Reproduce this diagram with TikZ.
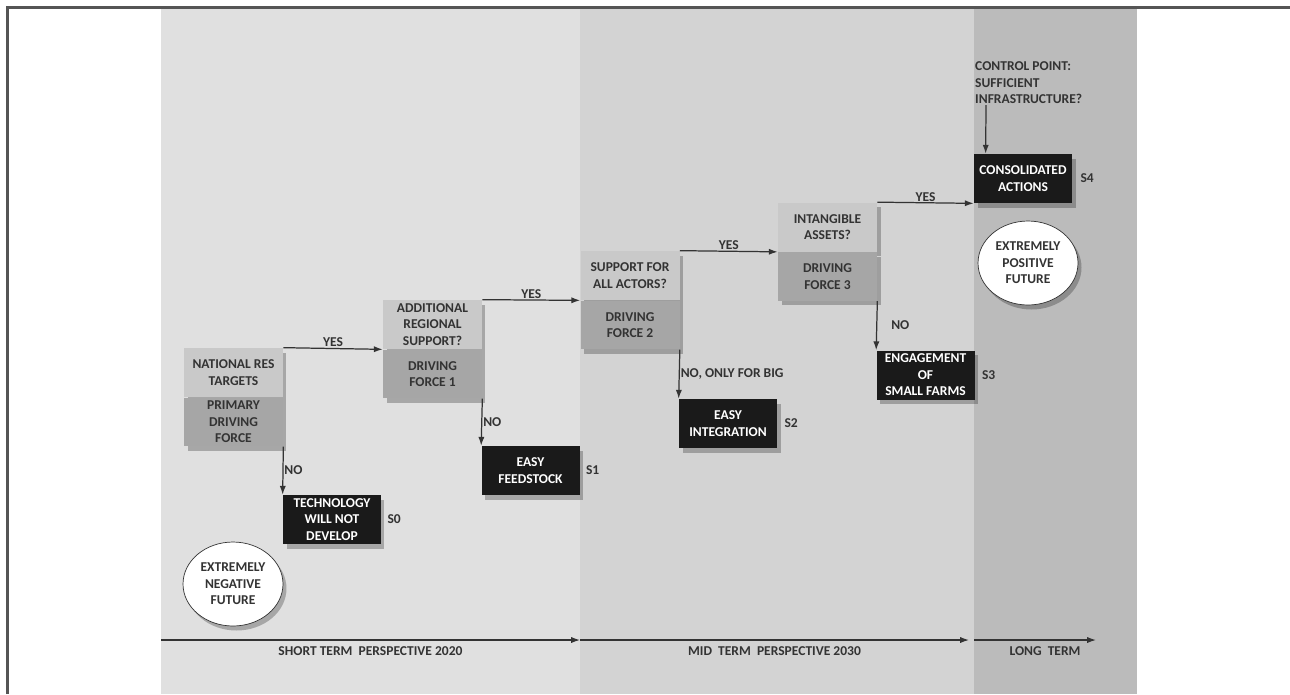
\documentclass[tikz,border=0pt]{standalone}
\usepackage{fontspec}
\setmainfont{Carlito}
\usetikzlibrary{positioning,shapes.geometric,shadows,arrows.meta}
\definecolor{bandshort}{HTML}{E0E0E0}
\definecolor{bandmid}{HTML}{D3D3D3}
\definecolor{bandlong}{HTML}{BBBBBB}
\definecolor{qgray}{HTML}{C9C9C9}
\definecolor{fgray}{HTML}{A6A6A6}
\definecolor{ink}{HTML}{333333}
\definecolor{frame}{HTML}{555555}
\definecolor{boxblack}{HTML}{1A1A1A}
\newcommand{\diagfont}{\bfseries\fontsize{7.7}{9.4}\selectfont}
\tikzset{
  softshadow/.style = { drop shadow={shadow xshift=0.07cm, shadow yshift=-0.09cm, opacity=0.25, fill=black} },
  question/.style  = { fill=qgray, text=ink, minimum width=1.98cm, minimum height=0.98cm, inner sep=0pt, align=center, font=\diagfont, softshadow },
  force/.style     = { question, fill=fgray, minimum height=0.97cm },
  scenario/.style  = { fill=boxblack, text=white, minimum width=1.96cm, minimum height=0.98cm, inner sep=0pt, align=center, font=\diagfont, softshadow },
  future/.style    = { ellipse, draw=ink, thin, fill=white, minimum width=2cm, minimum height=1.68cm, inner sep=0pt, align=center, text=ink, font=\diagfont, softshadow },
  link/.style      = { draw=ink, line width=0.7pt, -{Latex[length=5pt,width=3.5pt]} },
  tag/.style       = { text=ink, font=\diagfont, inner sep=0.5pt, align=left }
}
\begin{document}
\begin{tikzpicture}[x=0.02cm,y=-0.02cm]
  \useasboundingbox (0,0) rectangle (1290,694);

  % Draw time bands and frame
  \fill[bandshort] (161,8) rectangle (580,694);
  \fill[bandmid]   (580,8) rectangle (974,694);
  \fill[bandlong]  (974,8) rectangle (1137,694);
  \draw[frame, line width=1.2pt] (7.5,694) -- (7.5,7.5) -- (1290,7.5);

  % Draw driving forces
  \node[question] (q0) at (233.5,372.5) {NATIONAL RES\\TARGETS};
  \node[force, below=0pt of q0] (f0) {PRIMARY\\DRIVING\\FORCE};
  \node[question] (q1) at (432.5,324.5) {ADDITIONAL\\REGIONAL\\SUPPORT?};
  \node[force, below=0pt of q1] (f1) {DRIVING\\FORCE 1};
  \node[question] (q2) at (630,275.5) {SUPPORT FOR\\ALL ACTORS?};
  \node[force, below=0pt of q2] (f2) {DRIVING\\FORCE 2};
  \node[question] (q3) at (827.5,227) {INTANGIBLE\\ASSETS?};
  \node[force, below=0pt of q3] (f3) {DRIVING\\FORCE 3};

  % Draw scenarios
  \node[scenario] (s0) at (332,519.5)  {TECHNOLOGY\\WILL NOT\\DEVELOP};
  \node[scenario] (s1) at (530.5,470.5) {EASY\\FEEDSTOCK};
  \node[scenario] (s2) at (728,423.5)  {EASY\\INTEGRATION};
  \node[scenario] (s3) at (925.5,375)  {ENGAGEMENT\\OF\\SMALL FARMS};
  \node[scenario] (s4) at (1023,178.5) {CONSOLIDATED\\ACTIONS};

  \node[tag, right=0.1cm of s0] (t0) {S0};
  \node[tag, right=0.1cm of s1] (t1) {S1};
  \node[tag, right=0.12cm of s2] (t2) {S2};
  \node[tag, right=0.12cm of s3] (t3) {S3};
  \node[tag, right=0.14cm of s4] (t4) {S4};

  \node[tag, anchor=west] (ctrl) at (974,83) {CONTROL POINT:\\SUFFICIENT\\INFRASTRUCTURE?};

  \node[future] (neg) at (233,584) {EXTREMELY\\NEGATIVE\\FUTURE};
  \node[future] (pos) at (1028,263) {EXTREMELY\\POSITIVE\\FUTURE};

  % Draw decisions
  \draw[link] (q0.north east) -- node[tag, above] {YES} (q1.south west);
  \draw[link] (q1.north east) -- node[tag, above] {YES} (q2.south west);
  \draw[link] (q2.north east) -- node[tag, above] {YES} (q3.south west);
  \draw[link] (q3.north east) -- node[tag, above] {YES} (s4.south west);

  \draw[link] (f0.south east) -- node[tag, right] {NO} (s0.north west);
  \draw[link] (f1.south east) -- node[tag, right] {NO} (s1.north west);
  \draw[link] (f2.south east) -- node[tag, right] {NO, ONLY FOR BIG} (s2.north west);
  \draw[link] (f3.south east) -- node[tag, right, xshift=0.26cm] {NO} (s3.north west);

  \draw[link] ([xshift=0.24cm]ctrl.south west) -- ([xshift=0.24cm]s4.north west);

  % Draw time axis
  \coordinate (a0) at (161,640);
  \coordinate (a1) at (580,640);
  \coordinate (a2) at (974,640);
  \coordinate (a3) at (1096,640);
  \draw[link] (a0) -- node[tag, below=0.1cm] {SHORT TERM\ \ PERSPECTIVE 2020} (a1);
  \draw[link] (a1) -- node[tag, below=0.1cm] {MID\ \ TERM\ \ PERSPECTIVE 2030} ([xshift=-0.1cm]a2);
  \draw[link] (a2) -- node[tag, below=0.1cm, xshift=0.2cm] {LONG\ \ TERM} (a3);
\end{tikzpicture}
\end{document}
